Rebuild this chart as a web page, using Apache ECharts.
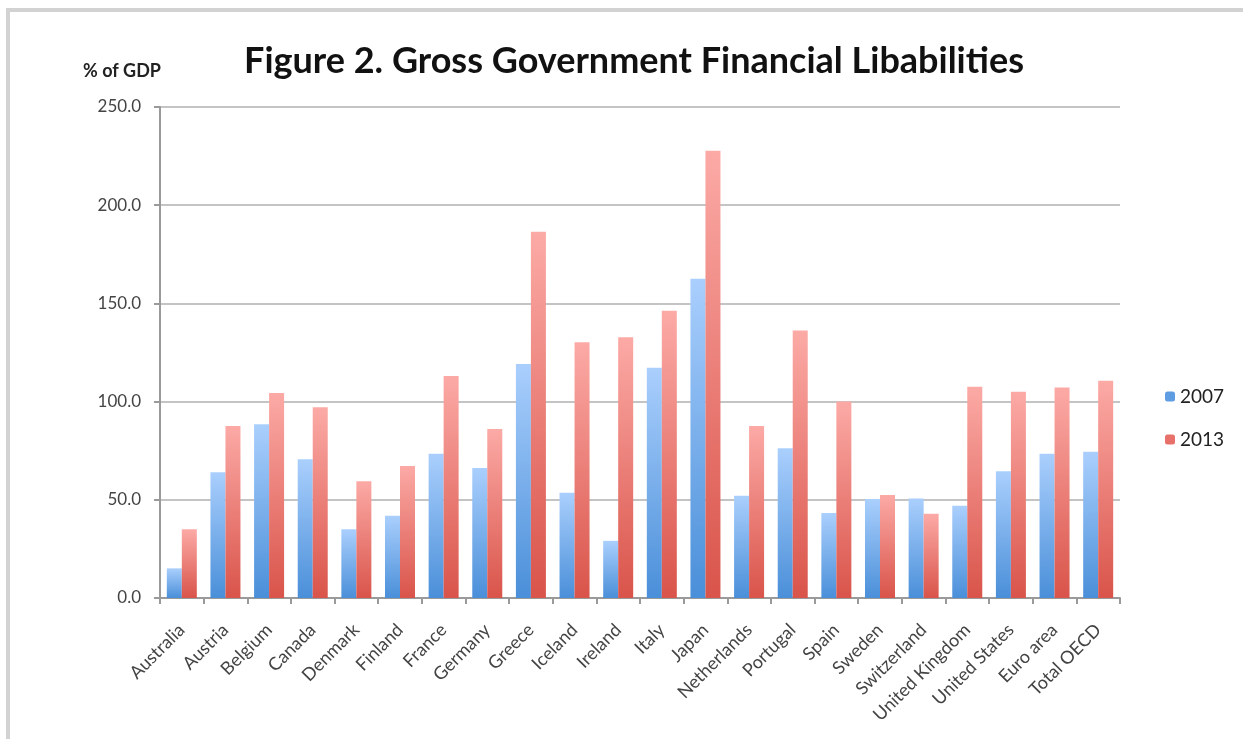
<!DOCTYPE html>
<html>
<head>
<meta charset="utf-8">
<script src="https://cdn.jsdelivr.net/npm/echarts@6/dist/echarts.min.js"></script>
<style>
  html, body { margin: 0; padding: 0; background: #fff; }
  #frame { position: absolute; left: 6px; top: 8px; width: 1237px; height: 731px;
           border-left: 4px solid #d2d2d2; border-top: 4px solid #d2d2d2; box-sizing: border-box; }
  #chart { position: absolute; left: 0; top: 0; width: 1243px; height: 739px; }
</style>
</head>
<body>
<div id="frame"></div>
<div id="chart"></div>
<script>
// 国家 / 地区
const countries = ['Australia', 'Austria', 'Belgium', 'Canada', 'Denmark', 'Finland', 'France',
  'Germany', 'Greece', 'Iceland', 'Ireland', 'Italy', 'Japan', 'Netherlands', 'Portugal', 'Spain',
  'Sweden', 'Switzerland', 'United Kingdom', 'United States', 'Euro area', 'Total OECD'];

const values2007 = [15.1, 64.0, 88.5, 70.7, 35.0, 41.9, 73.4, 66.2, 119.2, 53.6, 29.1, 117.2,
  162.6, 52.1, 76.2, 43.3, 50.4, 50.6, 47.0, 64.6, 73.5, 74.5];
const values2013 = [35.0, 87.6, 104.4, 97.1, 59.4, 67.2, 113.0, 86.1, 186.5, 130.2, 132.8, 146.2,
  227.7, 87.6, 136.2, 100.0, 52.5, 42.9, 107.6, 105.0, 107.2, 110.6];

const yTicks = { min: 0, max: 250, interval: 50 };

//渐变色
const blueFill = new echarts.graphic.LinearGradient(0, 0, 0, 1, [
  { offset: 0, color: '#aacffd' }, { offset: 1, color: '#4a8fd9' }]);
const redFill = new echarts.graphic.LinearGradient(0, 0, 0, 1, [
  { offset: 0, color: '#fcaaa6' }, { offset: 1, color: '#d9544a' }]);

const option = {
  animation: false,
  backgroundColor: 'transparent',
  title: {
    text: 'Figure 2. Gross Government Financial Libabilities',
    left: 629, top: 38, textAlign: 'center',
    textStyle: { fontFamily: 'Lato', fontWeight: 'bold', fontSize: 36, color: '#111' }
  },
  graphic: [{
    type: 'text', left: 83, top: 62,
    style: { text: '% of GDP', fontFamily: 'Lato', fontWeight: 'bold', fontSize: 18, fill: '#222' }
  }],
  legend: {
    orient: 'vertical', left: 1160, top: 382,
    itemWidth: 10, itemHeight: 10, itemGap: 24,
    textStyle: { fontFamily: 'Lato', fontSize: 19, color: '#222' },
    data: [
      { name: '2007', itemStyle: { color: '#5f9de3' } },
      { name: '2013', itemStyle: { color: '#e8706a' } }
    ]
  },
  grid: { left: 160, right: 123, top: 107, bottom: 141 },
  xAxis: {
    type: 'category',
    data: countries,
    axisLine: { lineStyle: { color: '#9a9a9a', width: 2 } },
    axisTick: { show: true, length: 6, lineStyle: { color: '#9a9a9a', width: 2 } },
    axisLabel: { rotate: 45, fontFamily: 'Lato', fontSize: 18, color: '#444', margin: 29, interval: 0 }
  },
  yAxis: {
    type: 'value',
    min: yTicks.min, max: yTicks.max, interval: yTicks.interval,
    axisLine: { show: true, lineStyle: { color: '#9a9a9a', width: 2 } },
    axisTick: { show: true, length: 6, lineStyle: { color: '#9a9a9a', width: 2 } },
    splitLine: { lineStyle: { color: '#c4c4c4', width: 2 } },
    axisLabel: { fontFamily: 'Lato', fontSize: 17, color: '#444', margin: 19,
      formatter: v => v.toFixed(1) }
  },
  series: [
    { name: '2007', type: 'bar', data: values2007, barWidth: 15, barGap: '0%',
      itemStyle: { color: blueFill } },
    { name: '2013', type: 'bar', data: values2013, barWidth: 15, barGap: '0%',
      itemStyle: { color: redFill } }
  ]
};

const myChart = echarts.init(document.getElementById('chart'));
// 绘制图表
myChart.setOption(option);
</script>
</body>
</html>
